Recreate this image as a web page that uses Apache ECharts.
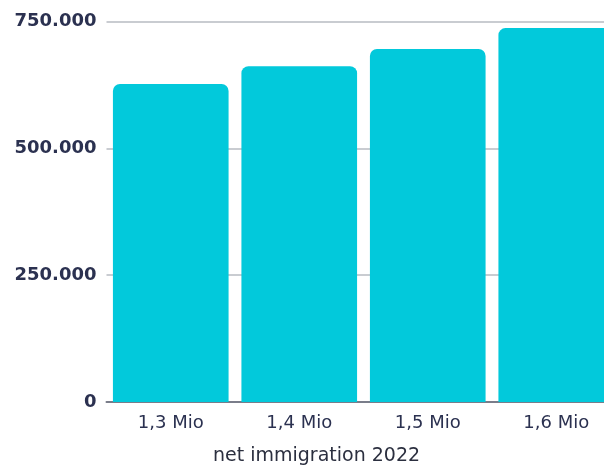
<!DOCTYPE html>
<html>
<head>
<meta charset="utf-8">
<script src="https://cdn.jsdelivr.net/npm/echarts@6/dist/echarts.min.js"></script>
<style>
  html, body { margin: 0; padding: 0; background: #fff; }
  #chart { width: 604px; height: 468px; }
</style>
</head>
<body>
<div id="chart"></div>
<script>
var categories = ['1,3 Mio', '1,4 Mio', '1,5 Mio', '1,6 Mio'];
var values = [627000, 662000, 696000, 737000];
var axisName = 'net immigration 2022';

var myChart = echarts.init(document.getElementById('chart'));

option = {
  animation: false,
  grid: {
    left: 106.5,
    width: 514,
    top: 21.5,
    bottom: 66,
    outerBoundsMode: 'none'
  },
  xAxis: {
    type: 'category',
    data: categories,
    axisTick: { show: false },
    axisLine: { lineStyle: { color: '#7a7d8a', width: 2 } },
    axisLabel: {
      color: '#2b3150',
      fontFamily: 'DejaVu Sans',
      fontSize: 18,
      margin: 12
    }
  },
  yAxis: {
    type: 'value',
    min: 0,
    max: 750000,
    interval: 250000,
    axisLine: { show: false },
    axisTick: { show: false },
    splitLine: { lineStyle: { color: '#c9ccd1', width: 2 } },
    axisLabel: {
      color: '#2b3150',
      fontFamily: 'DejaVu Sans',
      fontWeight: 'bold',
      fontSize: 18,
      margin: 10,
      formatter: function (v) {
        return v === 0 ? '0' : v.toLocaleString('de-DE');
      }
    }
  },
  graphic: [{
    type: 'text',
    left: 213,
    top: 447,
    style: {
      text: axisName,
      fill: '#2b2f3f',
      fontFamily: 'DejaVu Sans',
      fontSize: 19
    }
  }],
  series: [{
    type: 'bar',
    data: values,
    barCategoryGap: '10%',
    itemStyle: {
      color: '#02c9db',
      borderRadius: [7, 7, 0, 0]
    }
  }]
};

myChart.setOption(option);
</script>
</body>
</html>
